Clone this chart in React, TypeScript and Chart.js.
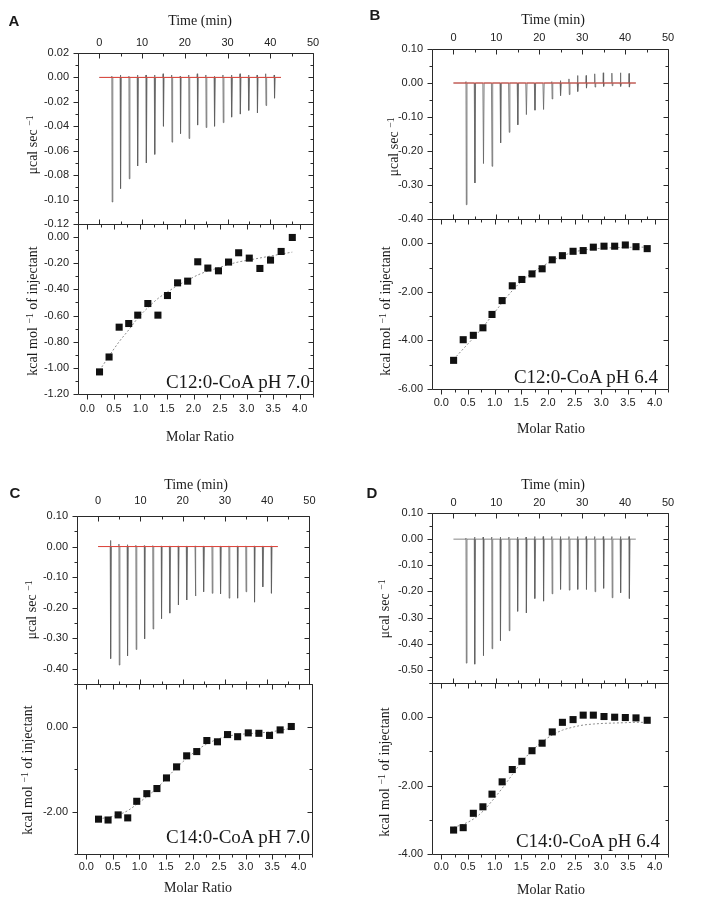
import React, { useEffect, useRef } from 'react';
import { Chart, registerables } from 'chart.js';
Chart.register(...registerables);

// ---------------- shared data ----------------
const injectionTimes = [3, 5, 7, 9, 11, 13, 15, 17, 19, 21, 23, 25, 27, 29, 31, 33, 35, 37, 39, 41];
const traceEnd = 42.5;
const molarRatio = [0.23, 0.41, 0.60, 0.78, 0.95, 1.14, 1.33, 1.51, 1.70, 1.89, 2.08, 2.27, 2.47, 2.66, 2.85, 3.05, 3.25, 3.45, 3.65, 3.86];
const timeTicks = [0, 10, 20, 30, 40, 50];
const molarTicks = [0, 0.5, 1, 1.5, 2, 2.5, 3, 3.5, 4];

// ---------------- panel A : C12:0-CoA pH 7.0 ----------------
const powerA = [-0.102, -0.091, -0.083, -0.0725, -0.070, -0.063, -0.040, -0.053, -0.046, -0.050, -0.039, -0.041, -0.040, -0.037, -0.0325, -0.030, -0.027, -0.029, -0.023, -0.017];
const overshootA = [0.001, 0.002, 0.001, 0.002, 0.002, 0.002, 0.003, 0.002, 0.001, 0.002, 0.003, 0.002, 0.001, 0.002, 0.002, 0.003, 0.002, 0.002, 0.003, 0.002];
const heatA = [-1.031, -0.917, -0.689, -0.661, -0.597, -0.508, -0.597, -0.447, -0.350, -0.337, -0.189, -0.237, -0.258, -0.191, -0.120, -0.161, -0.240, -0.176, -0.110, -0.003];
const fitA = [-1.02, -0.91, -0.80, -0.71, -0.62, -0.54, -0.47, -0.42, -0.37, -0.33, -0.29, -0.26, -0.235, -0.21, -0.19, -0.175, -0.16, -0.145, -0.13, -0.115];
const powerTicksA = [0.02, 0, -0.02, -0.04, -0.06, -0.08, -0.1, -0.12];
const heatTicksA = [0, -0.2, -0.4, -0.6, -0.8, -1.0, -1.2];

// ---------------- panel B : C12:0-CoA pH 6.4 ----------------
const powerB = [-0.358, -0.294, -0.237, -0.245, -0.176, -0.145, -0.123, -0.093, -0.080, -0.078, -0.047, -0.037, -0.034, -0.025, -0.015, -0.012, -0.010, -0.008, -0.010, -0.012];
const overshootB = [0.004, 0, 0, 0, 0, 0, 0, 0, 0, 0, 0.004, 0.007, 0.012, 0.022, 0.022, 0.027, 0.030, 0.029, 0.030, 0.028];
const heatB = [-4.82, -3.97, -3.79, -3.48, -2.93, -2.36, -1.75, -1.49, -1.26, -1.05, -0.68, -0.51, -0.33, -0.30, -0.16, -0.12, -0.12, -0.07, -0.14, -0.22];
const fitB = [-4.78, -4.35, -3.90, -3.45, -2.98, -2.45, -1.95, -1.55, -1.22, -0.95, -0.72, -0.52, -0.37, -0.28, -0.23, -0.20, -0.18, -0.17, -0.16, -0.16];
const powerTicksB = [0.1, 0, -0.1, -0.2, -0.3, -0.4];
const heatTicksB = [0, -2, -4, -6];

// ---------------- panel C : C14:0-CoA pH 7.0 ----------------
const powerC = [-0.367, -0.388, -0.358, -0.337, -0.302, -0.270, -0.236, -0.218, -0.191, -0.175, -0.162, -0.148, -0.153, -0.155, -0.169, -0.169, -0.148, -0.182, -0.132, -0.153];
const overshootC = [0.02, 0.008, 0.006, 0.004, 0.003, 0.003, 0.002, 0.002, 0.002, 0.002, 0.002, 0.002, 0.002, 0.002, 0.002, 0.002, 0.002, 0.002, 0.002, 0.002];
const heatC = [-2.18, -2.20, -2.08, -2.15, -1.76, -1.58, -1.46, -1.21, -0.95, -0.69, -0.59, -0.33, -0.36, -0.19, -0.24, -0.15, -0.16, -0.21, -0.08, 0.00];
const fitC = [-2.17, -2.14, -2.08, -1.98, -1.83, -1.65, -1.45, -1.22, -0.97, -0.75, -0.56, -0.41, -0.30, -0.23, -0.19, -0.17, -0.15, -0.13, -0.09, -0.04];
const powerTicksC = [0.1, 0, -0.1, -0.2, -0.3, -0.4];
const heatTicksC = [0, -2];

// ---------------- panel D : C14:0-CoA pH 6.4 ----------------
const powerD = [-0.474, -0.478, -0.445, -0.419, -0.388, -0.350, -0.276, -0.282, -0.227, -0.237, -0.209, -0.192, -0.195, -0.192, -0.192, -0.201, -0.188, -0.224, -0.205, -0.227];
const overshootD = [0.004, 0.008, 0.008, 0.008, 0.008, 0.008, 0.008, 0.008, 0.01, 0.01, 0.01, 0.01, 0.01, 0.01, 0.01, 0.01, 0.01, 0.01, 0.01, 0.01];
const heatD = [-3.30, -3.23, -2.81, -2.62, -2.25, -1.89, -1.53, -1.29, -0.98, -0.76, -0.43, -0.15, -0.07, 0.06, 0.06, 0.02, 0.00, -0.01, -0.02, -0.09];
const fitD = [-3.22, -3.13, -2.98, -2.75, -2.45, -2.08, -1.68, -1.30, -0.98, -0.72, -0.52, -0.38, -0.29, -0.23, -0.20, -0.18, -0.17, -0.16, -0.15, -0.15];
const powerTicksD = [0.1, 0, -0.1, -0.2, -0.3, -0.4, -0.5];
const heatTicksD = [0, -2, -4];

// ---------------- layout ----------------
const SANS = '"Liberation Sans", Arial, sans-serif';
const SERIF = '"Liberation Serif", "Times New Roman", serif';
const LM = 72, RM = 12, TM_TOP = 32, BM_TOP = 22, TM_BOT = 22, BM_BOT = 32;
const TIME_RANGE = [-5, 50];
const MOLAR_RANGE = [-0.175, 4.25];

const panels = [
  {
    id: 'A', L: 78, R: 313, T: 53, M: 224, B: 394,
    power: powerA, overshoot: overshootA, baseline: true, powerRange: [-0.12, 0.02], powerTicks: powerTicksA,
    heat: heatA, fit: fitA, heatRange: [-1.2, 0.1], heatTicks: heatTicksA,
    name: 'C12:0-CoA pH 7.0', timeLabelY: 43, molarLabelY: 409,
    letter: [14, 20], timeTitle: [200, 21], powerTitle: [33, 145], heatTitle: [33, 311], molarTitle: [200, 437], nameAt: [310, 381],
  },
  {
    id: 'B', L: 432, R: 668, T: 49, M: 219, B: 389,
    power: powerB, overshoot: overshootB, baseline: true, powerRange: [-0.4, 0.1], powerTicks: powerTicksB,
    heat: heatB, fit: fitB, heatRange: [-6, 1], heatTicks: heatTicksB,
    name: 'C12:0-CoA pH 6.4', timeLabelY: 38, molarLabelY: 403,
    letter: [375, 14], timeTitle: [553, 20], powerTitle: [394, 147], heatTitle: [386, 311], molarTitle: [551, 429], nameAt: [658, 376],
  },
  {
    id: 'C', L: 77, R: 312, T: 516, M: 684, B: 854,
    power: powerC, overshoot: overshootC, baseline: true, powerRange: [-0.45, 0.1], powerTicks: powerTicksC,
    heat: heatC, fit: fitC, heatRange: [-3, 1], heatTicks: heatTicksC,
    name: 'C14:0-CoA pH 7.0', timeLabelY: 501, molarLabelY: 867,
    letter: [15, 492], timeTitle: [196, 485], powerTitle: [32, 610], heatTitle: [28, 770], molarTitle: [198, 888], nameAt: [310, 836],
  },
  {
    id: 'D', L: 432, R: 668, T: 513, M: 683, B: 854,
    power: powerD, overshoot: overshootD, baseline: false, powerRange: [-0.55, 0.1], powerTicks: powerTicksD,
    heat: heatD, fit: fitD, heatRange: [-4, 1], heatTicks: heatTicksD,
    name: 'C14:0-CoA pH 6.4', timeLabelY: 503, molarLabelY: 867,
    letter: [372, 492], timeTitle: [553, 485], powerTitle: [385, 609], heatTitle: [385, 772], molarTitle: [551, 890], nameAt: [660, 840],
  },
];

function buildTrace(power: number[], over: number[]) {
  const pts: { x: number; y: number }[] = [{ x: 0, y: 0 }];
  injectionTimes.forEach((t, i) => {
    pts.push({ x: t - 0.15, y: 0 });
    if (over[i]) pts.push({ x: t - 0.08, y: over[i] });
    pts.push({ x: t, y: power[i] });
    pts.push({ x: t + 0.15, y: 0 });
  });
  pts.push({ x: traceEnd, y: 0 });
  return pts;
}

function minorFrom(values: number[], min: number, max: number) {
  const s = [...values].sort((a, b) => a - b);
  const out: number[] = [];
  for (let i = 0; i < s.length - 1; i++) out.push((s[i] + s[i + 1]) / 2);
  if (s.length > 1) {
    const step = s[1] - s[0];
    const lo = s[0] - step / 2;
    const hi = s[s.length - 1] + step / 2;
    if (lo >= min - 1e-9) out.push(lo);
    if (hi <= max + 1e-9) out.push(hi);
  }
  return out;
}

const framePlugin = {
  id: 'frameTicks',
  afterDatasetsDraw(chart: any, _args: any, opts: any) {
    const { ctx, chartArea: a } = chart;
    const xs = chart.scales.x;
    const ys = chart.scales.y;
    const Lx = Math.round(a.left) + 0.5;
    const Rx = Math.round(a.right) + 0.5;
    const Ty = Math.round(a.top) + 0.5;
    const By = Math.round(a.bottom) + 0.5;
    ctx.save();
    ctx.strokeStyle = '#2a2a2a';
    ctx.lineWidth = 1;
    ctx.beginPath();
    ctx.rect(Lx, Ty, Rx - Lx, By - Ty);
    ctx.stroke();
    const xMaj = xs.ticks.map((t: any) => t.value);
    const yMaj = ys.ticks.map((t: any) => t.value);
    const xMin = minorFrom(xMaj, xs.min, xs.max);
    const yMin = minorFrom(yMaj, ys.min, ys.max);
    const sides = opts.sides || {};
    ctx.beginPath();
    const draw = (side: string, dir: string, vals: number[], len: number) => {
      vals.forEach((v) => {
        if (side === 'left' || side === 'right') {
          if (v < ys.min - 1e-9 || v > ys.max + 1e-9) return;
          const y = Math.round(ys.getPixelForValue(v)) + 0.5;
          const x0 = side === 'left' ? Lx : Rx;
          const sign = (side === 'left') === (dir === 'out') ? -1 : 1;
          ctx.moveTo(x0, y);
          ctx.lineTo(x0 + sign * len, y);
        } else {
          if (v < xs.min - 1e-9 || v > xs.max + 1e-9) return;
          const x = Math.round(xs.getPixelForValue(v)) + 0.5;
          const y0 = side === 'top' ? Ty : By;
          const sign = (side === 'top') === (dir === 'out') ? -1 : 1;
          ctx.moveTo(x, y0);
          ctx.lineTo(x, y0 + sign * len);
        }
      });
    };
    Object.keys(sides).forEach((side) => {
      const dir = sides[side];
      const isY = side === 'left' || side === 'right';
      draw(side, dir, isY ? yMaj : xMaj, 5);
      draw(side, dir, isY ? yMin : xMin, 3);
    });
    ctx.stroke();
    ctx.restore();
  },
};

const tickFont = { family: SANS, size: 11 };

function topConfig(p: any) {
  const datasets: any[] = [];
  if (p.baseline) {
    datasets.push({ data: [{ x: 0, y: 0 }, { x: traceEnd, y: 0 }], showLine: true, borderColor: '#e0483e', borderWidth: 1, pointRadius: 0 });
  }
  datasets.push({ data: buildTrace(p.power, p.overshoot), showLine: true, borderColor: 'rgba(95,95,95,0.75)', borderWidth: 1, pointRadius: 0, tension: 0 });
  return {
    type: 'scatter',
    data: { datasets },
    options: {
      animation: false, responsive: false, maintainAspectRatio: false,
      layout: { padding: { left: 0, right: RM, top: 0, bottom: BM_TOP } },
      plugins: { legend: { display: false }, tooltip: { enabled: false }, frameTicks: { sides: { left: 'out', right: 'in', top: 'in', bottom: 'in' } } },
      scales: {
        x: {
          type: 'linear', position: 'top', min: TIME_RANGE[0], max: TIME_RANGE[1],
          afterBuildTicks: (s: any) => { s.ticks = timeTicks.map((v) => ({ value: v })); },
          afterFit: (s: any) => { s.height = TM_TOP; },
          grid: { display: false, drawTicks: false }, border: { display: false },
          ticks: { autoSkip: false, maxRotation: 0, padding: p.T - p.timeLabelY - 6.6, font: tickFont, color: '#222', callback: (v: any) => String(Math.round(Number(v))) },
        },
        y: {
          type: 'linear', position: 'left', min: p.powerRange[0], max: p.powerRange[1],
          afterBuildTicks: (s: any) => { s.ticks = p.powerTicks.map((v: number) => ({ value: v })); },
          afterFit: (s: any) => { s.width = LM; },
          grid: { display: false, drawTicks: false }, border: { display: false },
          ticks: { autoSkip: false, padding: 9, font: tickFont, color: '#222', callback: (v: any) => Number(v).toFixed(2) },
        },
      },
    },
    plugins: [framePlugin],
  };
}

function bottomConfig(p: any) {
  return {
    type: 'scatter',
    data: {
      datasets: [
        { data: molarRatio.map((x, i) => ({ x, y: p.heat[i] })), pointStyle: 'rect', pointRadius: 5, backgroundColor: '#111', borderColor: '#111', borderWidth: 0, showLine: false },
        { data: molarRatio.map((x, i) => ({ x, y: p.fit[i] })), showLine: true, borderColor: '#8c8c8c', borderWidth: 1, borderDash: [2, 2], pointRadius: 0, tension: 0.4, cubicInterpolationMode: 'monotone' },
      ],
    },
    options: {
      animation: false, responsive: false, maintainAspectRatio: false,
      layout: { padding: { left: 0, right: RM, top: TM_BOT, bottom: 0 } },
      plugins: { legend: { display: false }, tooltip: { enabled: false }, frameTicks: { sides: { left: 'out', right: 'in', top: 'in', bottom: 'out' } } },
      scales: {
        x: {
          type: 'linear', position: 'bottom', min: MOLAR_RANGE[0], max: MOLAR_RANGE[1],
          afterBuildTicks: (s: any) => { s.ticks = molarTicks.map((v) => ({ value: v })); },
          afterFit: (s: any) => { s.height = BM_BOT; },
          grid: { display: false, drawTicks: false }, border: { display: false },
          ticks: { autoSkip: false, maxRotation: 0, padding: p.molarLabelY - p.B - 6.6, font: tickFont, color: '#222', callback: (v: any) => Number(v).toFixed(1) },
        },
        y: {
          type: 'linear', position: 'left', min: p.heatRange[0], max: p.heatRange[1],
          afterBuildTicks: (s: any) => { s.ticks = p.heatTicks.map((v: number) => ({ value: v })); },
          afterFit: (s: any) => { s.width = LM; },
          grid: { display: false, drawTicks: false }, border: { display: false },
          ticks: { autoSkip: false, padding: 9, font: tickFont, color: '#222', callback: (v: any) => Number(v).toFixed(2) },
        },
      },
    },
    plugins: [framePlugin],
  };
}

function ChartCanvas({ x, y, w, h, make }: { x: number; y: number; w: number; h: number; make: () => any }) {
  const ref = useRef<HTMLCanvasElement | null>(null);
  useEffect(() => {
    if (!ref.current) return;
    const c = new Chart(ref.current, make());
    return () => c.destroy();
  }, []);
  return <canvas ref={ref} width={w} height={h} style={{ position: 'absolute', left: x, top: y, width: w, height: h }} />;
}

function Txt({ at, size, family, weight, rotate, right, children }: any) {
  const tf = right ? 'translate(-100%,-50%)' : rotate ? 'translate(-50%,-50%) rotate(-90deg)' : 'translate(-50%,-50%)';
  return (
    <div style={{ position: 'absolute', left: at[0], top: at[1], transform: tf, whiteSpace: 'nowrap', fontFamily: family, fontSize: size, fontWeight: weight || 'normal', lineHeight: 1, color: '#1a1a1a' }}>
      {children}
    </div>
  );
}

const Sup = ({ children }: any) => (
  <span style={{ fontSize: '0.7em', position: 'relative', top: '-0.45em' }}>{children}</span>
);

function PanelView({ p }: any) {
  const w = p.R - p.L + LM + RM;
  return (
    <>
      <ChartCanvas x={p.L - LM} y={p.T - TM_TOP} w={w} h={p.M - p.T + TM_TOP + BM_TOP} make={() => topConfig(p)} />
      <ChartCanvas x={p.L - LM} y={p.M - TM_BOT} w={w} h={p.B - p.M + TM_BOT + BM_BOT} make={() => bottomConfig(p)} />
      <Txt at={p.letter} size={15} family={SANS} weight="bold">{p.id}</Txt>
      <Txt at={p.timeTitle} size={14} family={SERIF}>Time (min)</Txt>
      <Txt at={p.molarTitle} size={14} family={SERIF}>Molar Ratio</Txt>
      <Txt at={p.powerTitle} size={14} family={SERIF} rotate>μcal sec <Sup>−1</Sup></Txt>
      <Txt at={p.heatTitle} size={14} family={SERIF} rotate>kcal mol <Sup>−1</Sup> of injectant</Txt>
      <Txt at={p.nameAt} size={19} family={SERIF} right>{p.name}</Txt>
    </>
  );
}

export default function App() {
  return (
    <div style={{ position: 'absolute', left: 0, top: 0, width: 714, height: 907, background: '#fff', overflow: 'hidden' }}>
      {panels.map((p) => <PanelView key={p.id} p={p} />)}
    </div>
  );
}
